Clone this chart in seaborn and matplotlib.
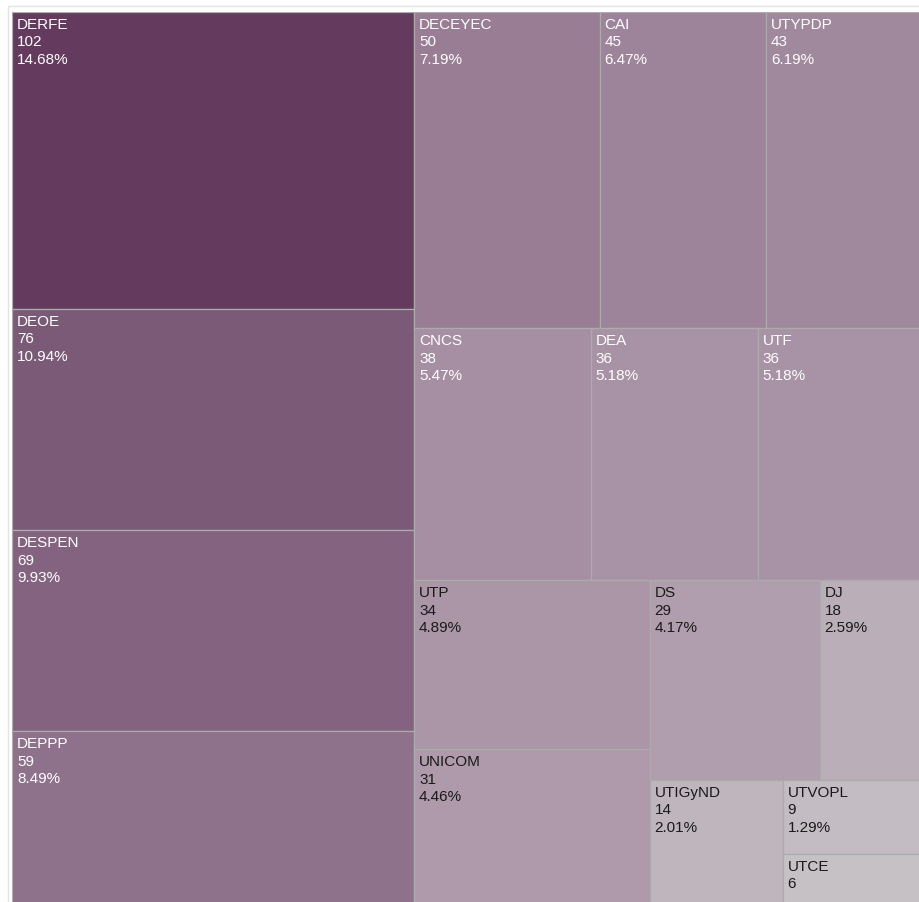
import matplotlib
matplotlib.use("Agg")
import matplotlib.pyplot as plt
from matplotlib.patches import Rectangle
from matplotlib.colors import LinearSegmentedColormap
import seaborn as sns

names = ["DERFE", "DEOE", "DESPEN", "DEPPP", "DECEYEC", "CAI", "UTYPDP", "CNCS",
         "DEA", "UTF", "UTP", "UNICOM", "DS", "DJ", "UTIGyND", "UTVOPL", "UTCE"]
values = [102, 76, 69, 59, 50, 45, 43, 38, 36, 36, 34, 31, 29, 18, 14, 9, 6]

sns.set_theme(style="white")
plt.rcParams["font.family"] = ["Liberation Sans", "DejaVu Sans"]

W_PX, H_PX = 920, 903
fig = plt.figure(figsize=(W_PX / 100, H_PX / 100), dpi=100)

# treemap area in pixels
L, T, TW, TH = 12.5, 12.5, 913.0, 891.5
ax = fig.add_axes([L / W_PX, 1 - (T + TH) / H_PX, TW / W_PX, TH / H_PX])
ax.set_xlim(0, TW)
ax.set_ylim(TH, 0)
ax.axis("off")


# ---- squarified layout (d3-style, golden ratio) ----
def squarify(vals, x0, y0, x1, y1, ratio=(1 + 5 ** 0.5) / 2):
    out = []
    n = len(vals)
    value = float(sum(vals))
    i0 = i1 = 0
    while i0 < n:
        dx, dy = x1 - x0, y1 - y0
        s = vals[i1]
        i1 += 1
        mn = mx = s
        alpha = max(dy / dx, dx / dy) / (value * ratio)
        beta = s * s * alpha
        min_ratio = max(mx / beta, beta / mn)
        while i1 < n:
            nv = vals[i1]
            s += nv
            mn = min(mn, nv)
            mx = max(mx, nv)
            beta = s * s * alpha
            new_ratio = max(mx / beta, beta / mn)
            if new_ratio > min_ratio:
                s -= nv
                break
            min_ratio = new_ratio
            i1 += 1
        row = vals[i0:i1]
        if dx < dy:  # dice: horizontal row across the top
            h = dy * s / value
            xx = x0
            for v in row:
                w = dx * v / s
                out.append((xx, y0, w, h))
                xx += w
            y0 += h
        else:  # slice: vertical column at the left
            w = dx * s / value
            yy = y0
            for v in row:
                h = dy * v / s
                out.append((x0, yy, w, h))
                yy += h
            x0 += w
        value -= s
        i0 = i1
    return out


rects = squarify(values, 0, 0, TW, TH)

vmin, vmax = min(values), max(values)
stops = [(0.0, "#c6c1c5"), ((29 - 6) / 96, "#b09dad"), ((50 - 6) / 96, "#987d95"),
         ((76 - 6) / 96, "#7b5a78"), (1.0, "#643a5e")]
cmap = LinearSegmentedColormap.from_list("purples", stops)
total = sum(values)

for (x, y, w, h), name, v in zip(rects, names, values):
    t = (v - vmin) / (vmax - vmin)
    ax.add_patch(Rectangle((x, y), w, h, facecolor=cmap(t), edgecolor="#ababab",
                           linewidth=0.9))
    tc = "white" if v >= 35 else "#1a1a1a"
    lines = [name, f"{v}", f"{v / total * 100:.2f}%"]
    for k, s in enumerate(lines):
        by = y + 16.3 + k * 17.5
        if by + 3 > h + y:
            break
        ax.text(x + 4.5, by, s, color=tc, fontsize=11, va="baseline", ha="left",
                clip_on=True)

# outer light frame
fig.add_artist(Rectangle((8 / W_PX, -0.1), 1.0, 1 - 7 / H_PX + 0.1, transform=fig.transFigure,
                         fill=False, edgecolor="#e3e3e3", linewidth=1.0))

fig.savefig("out.png", dpi=100)
